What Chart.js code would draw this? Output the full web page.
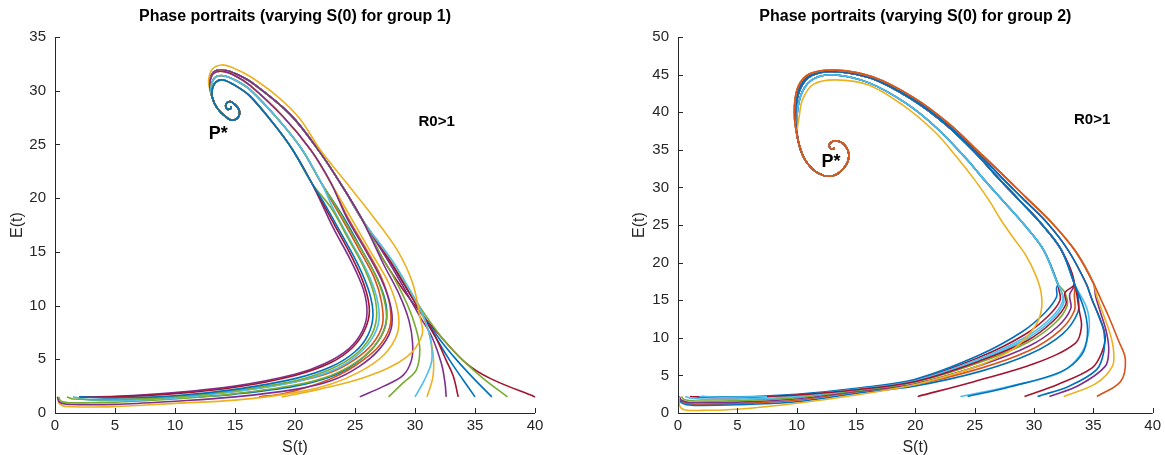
<!DOCTYPE html>
<html>
<head>
<meta charset="utf-8">
<script src="https://cdn.jsdelivr.net/npm/chart.js@4.4.1/dist/chart.umd.min.js"></script>
<style>
  html, body { margin: 0; padding: 0; background: #ffffff; width: 1165px; height: 455px; overflow: hidden; }
  canvas { position: absolute; top: 0; }
  #c1 { left: 0; }
  #c2 { left: 600px; }
</style>
</head>
<body>
<canvas id="c1" width="580" height="455"></canvas>
<canvas id="c2" width="565" height="455"></canvas>
<script>
// ---------- axis ticks ----------
const sTicks = [0, 5, 10, 15, 20, 25, 30, 35, 40];
const g1ETicks = [0, 5, 10, 15, 20, 25, 30, 35];
const g2ETicks = [0, 5, 10, 15, 20, 25, 30, 35, 40, 45, 50];

// ---------- group 1 : shared upper arcs and spiral into P* ([S, E]) ----------
const g1CoreIn  = [[21.4,21.4],[19.8,24.5],[18.3,26.8],[16.25,29.5],[15.0,30.5],[14.0,31.0],[13.4,30.8],[13.1,30.1]];
const g1CoreMid = [[22.2,21.4],[20.6,24.5],[18.7,27.2],[16.25,30.1],[15.0,31.0],[14.0,31.4],[13.3,31.2],[13.0,30.3]];
const g1CoreOut = [[23.0,21.4],[21.3,24.5],[19.0,27.6],[16.25,30.5],[15.0,31.4],[14.0,31.8],[13.2,31.6],[12.9,30.6]];
const g1CoreR   = [[25.6,18.0],[24.0,21.0],[22.0,24.4],[19.6,27.8],[16.6,30.6],[15.2,31.5],[14.1,31.9],[13.2,31.7],[12.9,30.7]];
const g1CoreYel = [[24.3,21.4],[22.1,24.5],[20.4,27.4],[18.5,29.5],[16.3,31.3],[14.9,32.1],[13.9,32.4],[13.1,32.0],[12.8,31.0],[12.9,30.1]];
const g1Spiral  = [[13.1,29.4],[13.5,28.4],[14.2,27.6],[14.8,27.25],[15.3,27.6],[15.35,28.2],[15.0,28.7],[14.6,29.0],[14.25,28.75],[14.3,28.35],[14.6,28.3],[14.7,28.55]];

// group 1 : trajectories from each S(0), up to where they join the arc
const g1_t01 = [[0.2,1.5],[0.35,0.9],[1.0,0.6],[5,0.6],[10,0.9],[15,1.2],[20,1.9],[23,2.7],[25.5,3.9],[27.4,5.4],[28.5,7.3],[28.6,9.3],[27.8,12.1],[26.2,15.2],[24.6,18.3]];
const g1_t02 = [[0.2,1.5],[0.4,1.0],[1.2,0.8],[5,0.8],[10,1.1],[15,1.5],[20,2.2],[23,3.0],[25.3,4.3],[27.0,5.9],[28.0,7.8],[28.0,9.8],[27.2,12.4],[25.8,15.3],[24.3,18.2]];
const g1_t03 = [[0.3,1.5],[0.5,1.1],[1.5,0.95],[5,1.0],[10,1.3],[15,1.8],[20,2.6],[23,3.5],[25.2,4.8],[26.8,6.5],[27.6,8.4],[27.4,10.7],[26.5,13.3],[25.0,16.2],[23.5,19.1]];
const g1_t04 = [[1.5,1.5],[3,1.2],[5,1.15],[10,1.4],[15,2.0],[20,2.9],[23,3.9],[25,5.2],[26.4,6.9],[27.0,8.7],[26.8,10.8],[26.0,13.2],[24.6,16.1],[23.2,19.0]];
const g1_t05 = [[2,1.5],[5,1.4],[10,1.6],[15,2.2],[20,3.2],[23,4.3],[25,5.7],[26.1,7.3],[26.5,9.1],[26.2,11.2],[25.3,13.7],[23.9,16.6],[22.5,19.4]];
const g1_t06 = [[2.1,1.5],[5,1.5],[10,1.8],[15,2.4],[20,3.5],[23,4.7],[24.8,6.1],[25.8,7.7],[26.2,9.5],[25.8,11.8],[24.7,14.6],[23.3,17.5]];
const g1_t07 = [[4.5,1.5],[7,1.45],[10,1.55],[15,2.0],[20,2.9],[23,3.8],[25,5.0],[26.5,6.5],[27.3,8.3],[27.2,10.4],[26.6,12.6],[25.3,15.3],[23.8,18.3]];
const g1_t08 = [[12,1.5],[15,1.75],[20,2.5],[23,3.4],[25,4.6],[26.6,6.2],[27.5,8.0],[27.6,10.0],[26.9,12.4],[25.5,15.3],[24.0,18.3]];
const g1_t09 = [[17,1.5],[19,1.8],[21,2.4],[23,3.2],[25,4.4],[26.9,6.1],[27.9,8.0],[27.9,10.1],[27.2,12.6],[25.8,15.5],[24.3,18.4]];
const g1_t10 = [[2.5,1.5],[5,1.55],[10,1.9],[15,2.5],[20,3.6],[22.5,4.6],[24.5,6.0],[25.6,7.6],[26.0,9.3],[25.7,11.5],[24.6,14.3],[23.2,17.2]];
const g1_t11 = [[1.0,1.5],[1.5,1.3],[5,1.25],[10,1.5],[15,2.1],[20,3.0],[23,4.1],[25,5.4],[26.3,7.1],[26.8,8.9],[26.6,11.0],[25.8,13.4],[24.4,16.3],[23.0,19.1]];
const g1_t12 = [[18.9,1.5],[22,2.2],[26,3.4],[29.3,5.2],[30.6,7.3],[30.4,9.0],[29.8,12.1],[28.5,15.2],[26.5,18.3]];
const g1_t13 = [[25.4,1.5],[27.4,2.5],[29.0,3.5],[29.7,4.9],[29.8,6.5],[29.5,8.6],[28.7,11.0],[27.4,13.8]];
const g1_t14 = [[27.8,1.5],[29.0,2.8],[30.1,4.0],[30.4,5.9],[30.1,7.8],[29.4,10.0],[28.2,12.7],[27.2,14.6]];
const g1_t15 = [[30.0,1.5],[30.8,3.1],[31.4,4.9],[31.25,7.1],[30.6,9.3],[29.5,11.6],[28.1,14.2]];
const g1_t16 = [[31.0,1.5],[31.5,3.4],[31.5,5.6],[31.1,7.7],[30.3,9.9],[29.1,12.3],[27.8,14.6]];
const g1_t17 = [[32.6,1.5],[32.5,2.8],[32.2,4.6],[31.4,7.1],[30.4,9.0],[29.2,11.4],[27.8,14.1]];
const g1_t18 = [[33.6,1.5],[33.2,3.4],[32.6,4.9],[31.7,7.1],[30.6,9.2],[29.3,11.6],[27.9,14.2]];
const g1_t19 = [[35.0,1.5],[34.0,3.1],[32.9,4.9],[31.8,6.9],[30.7,9.0],[29.4,11.4],[28.0,14.0]];
const g1_t20 = [[36.4,1.5],[34.9,3.2],[33.5,4.9],[32.1,6.8],[30.8,8.9],[29.5,11.3],[28.1,13.9]];
const g1_t21 = [[37.7,1.5],[35.7,3.2],[34.0,4.9],[32.4,6.8],[31.0,8.9],[29.6,11.3],[28.2,13.9]];
const g1_t22 = [[40.0,1.5],[36.3,3.2],[34.3,4.6],[32.4,6.8],[30.7,9.0],[29.0,11.5],[27.4,14.2]];

// ---------- group 2 : shared upper arcs and spiral into P* ----------
const g2CoreA   = [[32.0,17.2],[30.8,21.7],[29.2,25.0],[27.4,28.2],[25.7,31.2],[24.3,33.8],[21.8,37.9],[19.2,41.2],[16.1,43.9],[13.3,44.95],[11.5,44.5],[10.5,42.8],[10.05,39.9]];
const g2CoreB   = [[33.4,17.2],[32.3,21.7],[30.6,25.2],[28.7,28.4],[26.9,31.4],[25.3,34.2],[22.6,38.3],[19.7,41.7],[16.3,44.5],[13.3,45.4],[11.3,44.9],[10.3,43.1],[9.9,39.9]];
const g2CoreC   = [[34.4,17.2],[32.9,21.6],[31.1,25.3],[29.0,28.6],[27.1,31.6],[25.4,34.4],[22.7,38.4],[19.8,41.8],[16.3,44.6],[13.3,45.5],[11.2,45.0],[10.2,43.2],[9.85,39.9]];
const g2CoreD   = [[35.0,17.3],[33.5,21.5],[31.5,25.3],[29.3,28.7],[27.3,31.8],[25.5,34.5],[22.8,38.5],[19.9,41.9],[16.4,44.7],[13.3,45.6],[11.1,45.1],[10.1,43.3],[9.8,39.9]];
const g2CoreYel = [[27.2,25.7],[26.2,28.3],[25.0,31.0],[23.5,34.0],[21.7,37.3],[18.9,41.0],[16.1,43.6],[13.3,44.3],[11.4,43.7],[10.5,41.7],[10.2,39.3],[10.05,37.6]];
const g2Spiral  = [[10.1,36.4],[10.7,33.7],[11.8,31.9],[13.05,31.55],[14.0,32.6],[14.4,34.2],[14.0,35.7],[13.2,36.2],[12.75,35.7],[12.9,35.1],[13.2,35.2]];

// group 2 : trajectories from each S(0)
const g2_t01 = [[0.1,2.2],[0.2,1.5],[0.7,1.1],[2,1.0],[5,1.1],[10,1.5],[15,2.6],[20,3.6],[25.4,5.5],[29.6,7.8],[32.4,10.5],[33.7,13.4],[33.7,15.6]];
const g2_t02 = [[0.1,2.2],[0.25,1.6],[0.8,1.25],[2,1.15],[5,1.25],[10,1.7],[15,2.8],[20,3.8],[25.4,5.9],[29.6,8.3],[32.2,11.0],[33.4,13.6],[33.4,15.6]];
const g2_t03 = [[0.1,2.2],[0.3,1.7],[1,1.4],[5,1.45],[10,1.9],[15,2.9],[20,3.9],[25.4,6.3],[29.6,8.9],[32.0,11.5],[33.1,13.9],[33.0,15.7]];
const g2_t04 = [[0.3,2.2],[0.5,1.8],[1.5,1.6],[5,1.65],[10,2.05],[15,3.0],[20,4.1],[25.4,6.7],[29.5,9.4],[31.8,12.0],[32.8,14.3],[32.6,16.0]];
const g2_t05 = [[0.6,2.2],[1,2.0],[2,1.85],[5,1.85],[10,2.2],[15,3.1],[20,4.2],[25.4,7.0],[29.4,9.9],[31.5,12.4],[32.5,14.6],[32.3,16.2]];
const g2_t06 = [[1.0,2.2],[3,2.05],[5,2.05],[10,2.4],[15,3.2],[20,4.4],[25.4,7.4],[29.2,10.4],[31.2,12.9],[32.2,15.0],[32.1,16.4]];
const g2_t07 = [[2.0,2.2],[5,2.15],[10,2.5],[15,3.3],[20,4.5],[25.4,7.7],[29.0,10.8],[30.9,13.3],[31.9,15.4],[31.9,16.6]];
const g2_t08 = [[1.8,2.2],[4,2.1],[7.5,2.2],[10,2.35],[15,3.15],[20,4.3],[25.4,7.2],[29.3,10.1],[31.4,12.6],[32.4,14.8],[32.3,16.3]];
const g2_t09 = [[7.5,2.2],[10,2.4],[15,3.1],[20,4.2],[25.4,6.9],[29.4,9.6],[31.6,12.2],[32.7,14.5],[32.6,16.0]];
const g2_t10 = [[0.1,2.2],[0.15,0.9],[0.6,0.4],[2,0.35],[5,0.5],[10,1.3],[15,2.4],[20,3.8],[24.3,5.7],[26.7,7.2],[28.5,8.8],[30.0,11.3],[30.6,13.5],[30.6,16.0],[30.1,18.5],[29.3,21.0],[28.3,23.2]];
const g2_t11 = [[20.2,2.2],[25.0,4.2],[30.1,6.6],[33.5,9.3],[34.0,11.5],[33.8,13.7],[33.6,15.8]];
const g2_t12 = [[23.8,2.2],[27.5,3.4],[32.1,5.3],[33.8,7.5],[34.6,10.6],[34.5,13.7]];
const g2_t13 = [[24.4,2.2],[28.0,3.5],[32.3,5.5],[34.0,7.7],[34.5,10.3],[34.3,13.4]];
const g2_t14 = [[29.2,2.2],[32.0,3.8],[34.9,6.0],[35.7,8.0],[36.0,10.2],[35.5,12.8],[34.9,15.0]];
const g2_t15 = [[30.3,2.2],[33.0,3.6],[35.3,5.8],[35.9,8.3],[35.9,10.8],[35.3,13.5],[34.8,15.5]];
const g2_t16 = [[31.3,2.2],[33.8,3.7],[36.0,6.2],[36.3,8.4],[36.1,10.8],[35.6,13.4],[35.2,15.5]];
const g2_t17 = [[32.5,2.2],[35.2,3.9],[36.6,6.2],[36.7,8.4],[36.4,10.6],[35.8,13.3],[35.3,15.5]];
const g2_t18 = [[35.3,2.2],[37.3,4.2],[37.7,7.1],[37.1,9.7],[36.3,12.8],[35.5,15.6]];

// ---------- annotation anchors ([S, E]) ----------
const g1PStar = [13.6, 26.0];
const g1R0    = [31.8, 27.1];
const g2PStar = [12.9, 33.4];
const g2R0    = [34.9, 39.0];

// ---------- line colours (default MATLAB order) ----------
const BLUE = '#0072BD', ORANGE = '#D95319', YELLOW = '#EDB120', PURPLE = '#7E2F8E',
      GREEN = '#77AC30', CYAN = '#4DBEEE', MAROON = '#A2142F';

// Chart.js paints the first dataset on top, so the blue trajectory leads the list
const g1Lines = [
  [g1_t05, g1CoreIn, BLUE],    [g1_t11, g1CoreIn, GREEN],  [g1_t06, g1CoreIn, MAROON],
  [g1_t10, g1CoreIn, PURPLE],  [g1_t04, g1CoreMid, CYAN],  [g1_t03, g1CoreMid, GREEN],
  [g1_t07, g1CoreMid, ORANGE], [g1_t02, g1CoreOut, PURPLE], [g1_t01, g1CoreOut, YELLOW],
  [g1_t08, g1CoreMid, BLUE],   [g1_t09, g1CoreOut, ORANGE], [g1_t12, g1CoreYel, YELLOW],
  [g1_t13, g1CoreR, PURPLE],   [g1_t14, g1CoreR, GREEN],   [g1_t15, g1CoreR, CYAN],
  [g1_t16, g1CoreR, YELLOW],   [g1_t17, g1CoreR, PURPLE],  [g1_t18, g1CoreR, MAROON],
  [g1_t19, g1CoreR, BLUE],     [g1_t20, g1CoreR, BLUE],    [g1_t21, g1CoreR, GREEN],
  [g1_t22, g1CoreR, MAROON]
];
const g2Lines = [
  [g2_t18, g2CoreD, ORANGE], [g2_t17, g2CoreD, YELLOW], [g2_t16, g2CoreD, PURPLE],
  [g2_t15, g2CoreC, BLUE],   [g2_t14, g2CoreC, MAROON], [g2_t13, g2CoreB, BLUE],
  [g2_t12, g2CoreB, CYAN],   [g2_t11, g2CoreB, MAROON], [g2_t10, g2CoreYel, YELLOW],
  [g2_t09, g2CoreB, MAROON], [g2_t08, g2CoreA, CYAN],   [g2_t07, g2CoreA, BLUE],
  [g2_t05, g2CoreA, CYAN],   [g2_t04, g2CoreA, GREEN],  [g2_t03, g2CoreB, PURPLE],
  [g2_t01, g2CoreB, BLUE],   [g2_t06, g2CoreA, MAROON], [g2_t02, g2CoreB, ORANGE]
];

const FONT = '"Liberation Sans", Arial, Helvetica, sans-serif';
const AXIS = '#262626';

function toDatasets(lines, spiral) {
  return lines.map(([head, core, color]) => ({
    data: head.concat(core, spiral).map(p => ({ x: p[0], y: p[1] })),
    borderColor: color,
    borderWidth: 1.6,
    pointRadius: 0,
    showLine: true,
    fill: false,
    tension: 0.35,
    clip: 6
  }));
}

// draws axis lines, inward ticks, title, axis names and annotations
const framePlugin = {
  id: 'frame',
  afterDraw(chart, args, o) {
    const { ctx, chartArea: a, scales: { x, y } } = chart;
    ctx.save();
    ctx.strokeStyle = AXIS;
    ctx.lineWidth = 1;
    ctx.beginPath();
    ctx.moveTo(a.left + 0.5, a.top);
    ctx.lineTo(a.left + 0.5, a.bottom + 0.5);
    ctx.lineTo(a.right, a.bottom + 0.5);
    x.ticks.forEach((t, i) => {
      const px = Math.round(x.getPixelForTick(i)) + 0.5;
      ctx.moveTo(px, a.bottom); ctx.lineTo(px, a.bottom - 5);
    });
    y.ticks.forEach((t, i) => {
      const py = Math.round(y.getPixelForTick(i)) + 0.5;
      ctx.moveTo(a.left, py); ctx.lineTo(a.left + 5, py);
    });
    ctx.stroke();

    ctx.textAlign = 'center';
    ctx.textBaseline = 'middle';
    ctx.fillStyle = '#000';
    ctx.font = 'bold 16px ' + FONT;
    ctx.fillText(o.title, (a.left + a.right) / 2, 17);

    ctx.fillStyle = AXIS;
    ctx.font = '16px ' + FONT;
    ctx.fillText('S(t)', (a.left + a.right) / 2, 448);
    ctx.save();
    ctx.translate(o.yTitleX, (a.top + a.bottom) / 2);
    ctx.rotate(-Math.PI / 2);
    ctx.fillText('E(t)', 0, 0);
    ctx.restore();

    ctx.fillStyle = '#000';
    ctx.font = 'bold 18px ' + FONT;
    ctx.fillText('P*', x.getPixelForValue(o.pstar[0]), y.getPixelForValue(o.pstar[1]));
    ctx.font = 'bold 15px ' + FONT;
    ctx.fillText('R0>1', x.getPixelForValue(o.r0[0]), y.getPixelForValue(o.r0[1]));
    ctx.restore();
  }
};

function makeChart(id, datasets, eTicks, eMax, yWidth, padRight, frame) {
  return new Chart(document.getElementById(id), {
    type: 'scatter',
    data: { datasets },
    plugins: [framePlugin],
    options: {
      responsive: false,
      animation: false,
      events: [],
      layout: { padding: { top: 37, right: padRight, left: 0, bottom: 0 } },
      plugins: { legend: { display: false }, tooltip: { enabled: false }, frame },
      scales: {
        x: {
          type: 'linear', min: 0, max: 40,
          afterBuildTicks: s => { s.ticks = sTicks.map(v => ({ value: v })); },
          afterFit: s => { s.height = 42; },
          grid: { display: false, drawTicks: false },
          border: { display: false },
          ticks: { color: AXIS, padding: 4, maxRotation: 0, autoSkip: false, font: { size: 15, family: FONT } }
        },
        y: {
          type: 'linear', min: 0, max: eMax,
          afterBuildTicks: s => { s.ticks = eTicks.map(v => ({ value: v })); },
          afterFit: s => { s.width = yWidth; },
          grid: { display: false, drawTicks: false },
          border: { display: false },
          ticks: { color: AXIS, padding: 9, autoSkip: false, font: { size: 15, family: FONT } }
        }
      }
    }
  });
}

makeChart('c1', toDatasets(g1Lines, g1Spiral), g1ETicks, 35, 55, 45,
  { title: 'Phase portraits (varying S(0) for group 1)', yTitleX: 18, pstar: g1PStar, r0: g1R0 });
makeChart('c2', toDatasets(g2Lines, g2Spiral), g2ETicks, 50, 78, 11,
  { title: 'Phase portraits (varying S(0) for group 2)', yTitleX: 40, pstar: g2PStar, r0: g2R0 });
</script>
</body>
</html>
